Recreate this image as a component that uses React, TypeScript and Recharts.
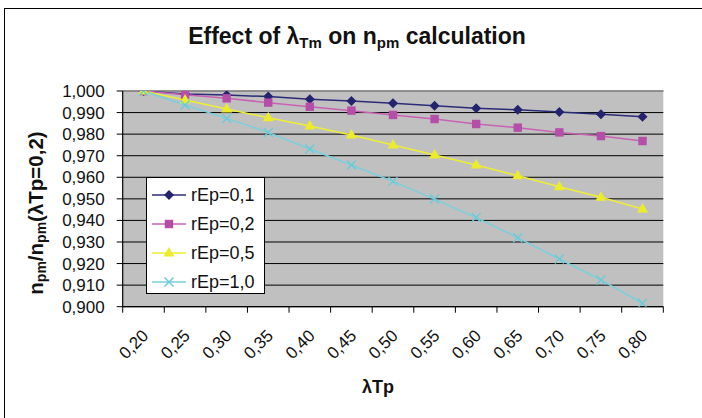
import React from 'react';
import { LineChart, Line, XAxis, YAxis, CartesianGrid, Legend, ReferenceLine } from 'recharts';

// category axis (λTp)
const categories = ['0,20', '0,25', '0,30', '0,35', '0,40', '0,45', '0,50', '0,55', '0,60', '0,65', '0,70', '0,75', '0,80'];

// npm / npm(λTp=0,2) for each rEp
const rEp01 = [1.0, 0.9986, 0.9981, 0.9974, 0.9962, 0.9954, 0.9943, 0.9932, 0.992, 0.9913, 0.9903, 0.9892, 0.9881];
const rEp02 = [1.0, 0.9983, 0.9966, 0.9946, 0.9927, 0.9909, 0.9889, 0.987, 0.9847, 0.983, 0.9808, 0.9791, 0.9768];
const rEp05 = [1.0, 0.9958, 0.9917, 0.9876, 0.9838, 0.9796, 0.975, 0.9703, 0.9657, 0.9607, 0.9556, 0.9507, 0.9453];
const rEp10 = [1.0, 0.9935, 0.9873, 0.9808, 0.9731, 0.9657, 0.9581, 0.9499, 0.9413, 0.932, 0.9221, 0.9124, 0.9016];

const yTicks = [0.9, 0.91, 0.92, 0.93, 0.94, 0.95, 0.96, 0.97, 0.98, 0.99, 1.0];

const data = categories.map((cat, i) => ({
  cat,
  r01: rEp01[i],
  r02: rEp02[i],
  r05: rEp05[i],
  r10: rEp10[i],
}));

const series = [
  { key: 'r01', name: 'rEp=0,1', line: '#2b2b78', fill: '#24246e', shape: 'diamond' },
  { key: 'r02', name: 'rEp=0,2', line: '#c862b4', fill: '#b44ea6', shape: 'square' },
  { key: 'r05', name: 'rEp=0,5', line: '#eeee34', fill: '#ecec2c', shape: 'triangle' },
  { key: 'r10', name: 'rEp=1,0', line: '#78d0dc', fill: '#6ccad8', shape: 'cross' },
];

const FONT = 'Arial, "Liberation Sans", Helvetica, sans-serif';
const W = 702;
const H = 418;
const PLOT_LEFT = 122.7;
const PLOT_RIGHT = 663.3;
const PLOT_TOP = 91;
const PLOT_BOTTOM = 306.7;
const Y_AXIS_W = 80;
const HALF = (PLOT_RIGHT - PLOT_LEFT) / categories.length / 2;

function Marker({ shape, cx, cy, color }: any) {
  if (cx == null || cy == null) return null;
  if (shape === 'diamond') {
    return <polygon points={`${cx},${cy - 5} ${cx + 5},${cy} ${cx},${cy + 5} ${cx - 5},${cy}`} fill={color} />;
  }
  if (shape === 'square') {
    return <rect x={cx - 4.2} y={cy - 4.2} width={8.4} height={8.4} fill={color} />;
  }
  if (shape === 'triangle') {
    return <polygon points={`${cx},${cy - 6} ${cx + 5.5},${cy + 3.5} ${cx - 5.5},${cy + 3.5}`} fill={color} />;
  }
  return (
    <g stroke={color} strokeWidth={1.4}>
      <line x1={cx - 4.5} y1={cy - 4.5} x2={cx + 4.5} y2={cy + 4.5} />
      <line x1={cx - 4.5} y1={cy + 4.5} x2={cx + 4.5} y2={cy - 4.5} />
    </g>
  );
}

function XTick(props: any) {
  const { x, y, payload, index } = props;
  const tx = x + 6;
  const ty = y + 30;
  return (
    <g>
      <line x1={x + HALF} x2={x + HALF} y1={y} y2={y + 6} stroke="#000" />
      {index === 0 && <line x1={x - HALF} x2={x - HALF} y1={y} y2={y + 6} stroke="#000" />}
      <text
        x={tx}
        y={ty}
        transform={`rotate(-45 ${tx} ${ty})`}
        textAnchor="end"
        fontSize={17}
        fontFamily={FONT}
        fill="#111"
      >
        {payload.value}
      </text>
    </g>
  );
}

const renderLegend = () => (
  <div
    style={{
      width: 119,
      height: 117,
      boxSizing: 'border-box',
      border: '1px solid #000',
      background: '#fff',
      paddingTop: 2,
    }}
  >
    {series.map((s) => (
      <div key={s.key} style={{ height: 29, display: 'flex', alignItems: 'center' }}>
        <svg width={44} height={14} style={{ display: 'block' }}>
          <line x1={5} x2={39} y1={7} y2={7} stroke={s.line} strokeWidth={1.5} />
          <Marker shape={s.shape} cx={22} cy={7} color={s.fill} />
        </svg>
        <span style={{ fontFamily: FONT, fontSize: 18, color: '#111', lineHeight: '18px' }}>{s.name}</span>
      </div>
    ))}
  </div>
);

export default function App() {
  return (
    <div style={{ position: 'fixed', left: 0, top: 0, width: W, height: H, overflow: 'hidden', background: '#fff' }}>
      <div
        style={{
          position: 'absolute',
          left: 4,
          top: 8,
          width: 760,
          height: 460,
          border: '1.5px solid #000',
        }}
      />
      <div style={{ position: 'absolute', left: 0, top: 0 }}>
        <LineChart
          width={W}
          height={H}
          data={data}
          margin={{ top: PLOT_TOP, right: W - PLOT_RIGHT, bottom: 0, left: PLOT_LEFT - Y_AXIS_W }}
        >
          <CartesianGrid vertical={false} stroke="#000" strokeWidth={1} fill="#c0c0c0" fillOpacity={1} />
          <XAxis
            dataKey="cat"
            type="category"
            interval={0}
            padding={{ left: HALF, right: HALF }}
            height={H - PLOT_BOTTOM}
            tickSize={0}
            tickMargin={0}
            tickLine={false}
            axisLine={{ stroke: '#000', strokeWidth: 1.2 }}
            tick={<XTick />}
          />
          <YAxis
            type="number"
            domain={[0.9, 1.0]}
            ticks={yTicks}
            interval={0}
            allowDataOverflow
            width={Y_AXIS_W}
            tickSize={6}
            tickMargin={12}
            tickLine={{ stroke: '#000' }}
            axisLine={{ stroke: '#000', strokeWidth: 1.2 }}
            tick={{ fill: '#111', fontSize: 17, fontFamily: FONT }}
            tickFormatter={(v: number) => v.toFixed(3).replace('.', ',')}
          />
          <YAxis
            yAxisId="frame"
            orientation="right"
            type="number"
            domain={[0.9, 1.0]}
            width={0}
            tick={false}
            tickLine={false}
            axisLine={{ stroke: '#808080', strokeWidth: 1.5 }}
          />
          <ReferenceLine y={1.0} stroke="#9a9a9a" strokeWidth={1.5} />
          {series.map((s) => (
            <Line
              key={s.key}
              dataKey={s.key}
              name={s.name}
              stroke={s.line}
              strokeWidth={1.5}
              isAnimationActive={false}
              dot={(p: any) => <Marker key={`${s.key}-${p.index}`} shape={s.shape} cx={p.cx} cy={p.cy} color={s.fill} />}
              activeDot={false}
            />
          ))}
          <Legend
            layout="vertical"
            align="center"
            verticalAlign="middle"
            wrapperStyle={{ left: 146, top: 177, width: 119, height: 117 }}
            content={renderLegend}
          />
        </LineChart>
      </div>
      <svg
        width={W}
        height={H}
        style={{ position: 'absolute', left: 0, top: 0, pointerEvents: 'none' }}
        fontFamily={FONT}
      >
        <text x={357} y={44} textAnchor="middle" fontSize={23} fontWeight="bold" fill="#111">
          Effect of λ
          <tspan fontSize={15} dy={4}>Tm</tspan>
          <tspan dy={-4}> on n</tspan>
          <tspan fontSize={15} dy={4}>pm</tspan>
          <tspan dy={-4}> calculation</tspan>
        </text>
        <text
          x={0}
          y={0}
          transform="translate(43 213) rotate(-90)"
          textAnchor="middle"
          fontSize={20.5}
          fontWeight="bold"
          fill="#111"
        >
          n
          <tspan fontSize={14} dy={3}>pm</tspan>
          <tspan dy={-3}>/n</tspan>
          <tspan fontSize={14} dy={3}>pm</tspan>
          <tspan dy={-3}>(λTp=0,2)</tspan>
        </text>
        <text x={378} y={393} textAnchor="middle" fontSize={18} fontWeight="bold" fill="#111">
          λTp
        </text>
      </svg>
    </div>
  );
}
